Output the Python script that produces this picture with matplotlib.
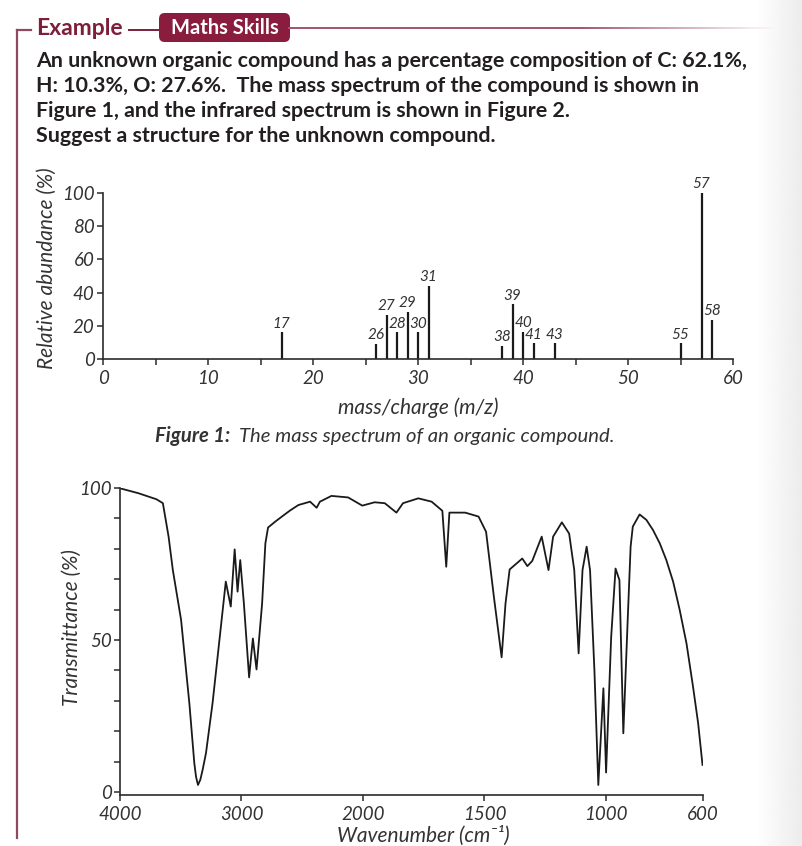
import numpy as np
import matplotlib
matplotlib.use('Agg')
import matplotlib.pyplot as plt
from matplotlib.patches import FancyBboxPatch
from matplotlib.lines import Line2D
from matplotlib.collections import LineCollection

plt.rcParams['font.family'] = ['Lato', 'DejaVu Sans']

# ---------------- data ----------------
header_lines = [
    "An unknown organic compound has a percentage composition of C: 62.1%,",
    "H: 10.3%, O: 27.6%.  The mass spectrum of the compound is shown in",
    "Figure 1, and the infrared spectrum is shown in Figure 2.",
    "Suggest a structure for the unknown compound.",
]

ms_mz = [17, 26, 27, 28, 29, 30, 31, 38, 39, 40, 41, 43, 55, 57, 58]
ms_abundance = [16, 9, 26.5, 16, 28.5, 16, 44, 8, 33, 16.5, 9.5, 9.5, 9.5, 100, 23.5]
ms_xticks = [0, 10, 20, 30, 40, 50, 60]
ms_xminor = [5, 15, 25, 35, 45, 55]
ms_yticks = [0, 20, 40, 60, 80, 100]

ir_wavenumber = [4000, 3850, 3700, 3647, 3600, 3565, 3497, 3456, 3429, 3388, 3374,
                 3358, 3339, 3320, 3292, 3238, 3184, 3129, 3088, 3056, 3032, 3010,
                 2980, 2937, 2906, 2876, 2830, 2803, 2781, 2720, 2667, 2600, 2531,
                 2435, 2381, 2354, 2259, 2122, 2005, 1952, 1910, 1862, 1835, 1772,
                 1717, 1673, 1657, 1644, 1579, 1524, 1493, 1461, 1429, 1413, 1396,
                 1344, 1323, 1303, 1264, 1236, 1217, 1181, 1151, 1130, 1112, 1096,
                 1079, 1065, 1047, 1031, 1010, 999, 978, 960, 944, 928, 910, 898,
                 889, 861, 833, 806, 778, 751, 723, 696, 668, 641, 620, 602]
ir_transmittance = [99.9, 98.3, 96.3, 95.0, 84.0, 73.0, 56.6, 40.0, 29.2, 9.4, 5.0,
                    2.3, 4.0, 7.2, 12.8, 29.2, 49.0, 69.2, 61.0, 79.8, 65.9, 76.3,
                    62.0, 37.7, 50.5, 40.3, 62.0, 81.8, 87.0, 89.0, 90.6, 92.6, 94.4,
                    95.5, 93.5, 95.5, 97.4, 96.9, 94.2, 95.3, 95.0, 91.9, 95.0, 96.6,
                    95.5, 92.5, 74.1, 91.9, 91.9, 90.6, 85.6, 64.3, 44.3, 62.0, 73.2,
                    76.8, 74.3, 76.0, 84.0, 73.0, 84.0, 88.7, 85.0, 73.0, 45.6, 73.0,
                    80.7, 73.0, 40.0, 2.3, 34.1, 6.4, 51.0, 73.5, 69.7, 19.3, 56.6, 80.7,
                    87.3, 91.3, 89.5, 86.2, 81.8, 76.3, 69.2, 59.9, 48.9, 34.6, 22.6, 8.9]
ir_xticks = [4000, 3000, 2000, 1500, 1000, 600]
ir_yticks = [0, 50, 100]
ir_yminor = [10, 20, 30, 40, 60, 70, 80, 90]

# ---------------- figure ----------------
W, H = 802, 846
fig = plt.figure(figsize=(W / 100, H / 100), dpi=100)
fig.patch.set_facecolor('white')

def fx(x):
    return x / W

def fy(y):
    return 1 - y / H

MAROON = '#7d1f3a'
TXT = '#231f20'
AX = '#2b2b2b'
LAB = '#333333'

# background gradient at the right edge
bg = fig.add_axes([0, 0, 1, 1], zorder=-10)
bg.axis('off')
xs = np.arange(W)
g = np.ones(W)
ramp = xs > 755
g[ramp] = 1 - 0.075 * (xs[ramp] - 755) / (W - 755)
bg.imshow(np.tile(g, (2, 1)), cmap='gray', vmin=0, vmax=1, aspect='auto',
          extent=[0, 1, 0, 1], interpolation='bilinear')
bg.set_xlim(0, 1); bg.set_ylim(0, 1)

# frame lines
fig.add_artist(Line2D([fx(17), fx(17)], [fy(30), fy(838)], color='#8e4a62', lw=1.6,
                      transform=fig.transFigure))
fig.add_artist(Line2D([fx(17), fx(31)], [fy(30), fy(30)], color='#8e4a62', lw=1.6,
                      transform=fig.transFigure, solid_capstyle='projecting'))
fig.add_artist(Line2D([fx(129), fx(160)], [fy(30), fy(30)], color=MAROON, lw=1.4,
                      transform=fig.transFigure))
# fading rule to the right of the box
xseg = np.linspace(288, 775, 120)
segs = [[(fx(a), fy(28)), (fx(b), fy(28))] for a, b in zip(xseg[:-1], xseg[1:])]
mid = (xseg[:-1] + xseg[1:]) / 2
alph = np.clip(1 - (mid - 580) / (775 - 580), 0, 1)
cols = [(0.63, 0.33, 0.42, a) for a in alph]
fig.add_artist(LineCollection(segs, colors=cols, linewidths=1.4, capstyle='butt',
                              transform=fig.transFigure))

fig.text(fx(36), fy(35), "Example", color=MAROON, fontsize=16.5, fontweight='bold',
         ha='left', va='baseline')
box = FancyBboxPatch((fx(159), fy(42)), fx(131), 29 / H,
                     boxstyle="round,pad=0,rounding_size=0.007",
                     transform=fig.transFigure, facecolor='#8a1d3d', edgecolor='none')
fig.add_artist(box)
fig.text(fx(224.5), fy(34), "Maths Skills", color='white', fontsize=14.5, fontweight='bold',
         ha='center', va='baseline')

for i, line in enumerate(header_lines):
    fig.text(fx(36), fy(67 + 25 * i), line, color=TXT, fontsize=15.4, fontweight='bold',
             ha='left', va='baseline')

# ---------------- Figure 1: mass spectrum ----------------
ax1 = fig.add_axes([fx(103), fy(359), (733 - 103) / W, (359 - 193) / H])
ax1.vlines(ms_mz, 0, ms_abundance, color='#1a1a1a', lw=1.6, clip_on=False)
for m, a in zip(ms_mz, ms_abundance):
    ax1.annotate(str(m), (m, a), xytext=(0, 1.2), textcoords='offset points',
                 ha='center', va='bottom', fontsize=11, fontstyle='italic', color=LAB)
ax1.set_xlim(0, 60)
ax1.set_ylim(0, 100)
ax1.set_xticks(ms_xticks)
ax1.set_xticks(ms_xminor, minor=True)
ax1.set_yticks(ms_yticks)
for s in ['top', 'right']:
    ax1.spines[s].set_visible(False)
for s in ['left', 'bottom']:
    ax1.spines[s].set_color(AX)
    ax1.spines[s].set_linewidth(1.2)
ax1.tick_params(which='both', direction='out', length=4, width=1.1, color=AX,
                labelsize=13.5, labelcolor=LAB)
ax1.tick_params(axis='y', pad=2)
ax1.tick_params(axis='x', pad=4)
for lab in ax1.get_xticklabels() + ax1.get_yticklabels():
    lab.set_fontstyle('italic')
ax1.set_xlabel("mass/charge (m/z)", fontsize=15, fontstyle='italic', color=LAB)
ax1.xaxis.set_label_coords(0.5, -0.23)
ax1.set_ylabel("Relative abundance (%)", fontsize=15, fontstyle='italic', color=LAB)
ax1.yaxis.set_label_coords(-0.074, 0.55)
ax1.patch.set_alpha(0)

t1 = fig.text(fx(155), fy(442), "Figure 1:", fontsize=14.6, fontweight='bold',
              fontstyle='italic', color=LAB, ha='left', va='baseline')
fig.canvas.draw()
bb = t1.get_window_extent()
fig.text(bb.x1 / W + fx(9), fy(442), "The mass spectrum of an organic compound.",
         fontsize=14.6, fontstyle='italic', color=LAB, ha='left', va='baseline')

# ---------------- Figure 2: IR spectrum ----------------
def fwd(w):
    w = np.asarray(w, dtype=float)
    return np.where(w >= 2000, w, 2 * w - 2000)

def inv(u):
    u = np.asarray(u, dtype=float)
    return np.where(u >= 2000, u, (u + 2000) / 2)

ax2 = fig.add_axes([fx(120), fy(795), (703 - 120) / W, (795 - 488) / H])
ax2.set_xscale('function', functions=(fwd, inv))
ax2.plot(ir_wavenumber, ir_transmittance, color='#1a1a1a', lw=1.3, solid_joinstyle='round')
ax2.set_xlim(4000, 600)
ax2.set_ylim(-1, 100)
ax2.set_xticks(ir_xticks)
ax2.set_xticklabels([str(t) for t in ir_xticks])
ax2.xaxis.set_minor_locator(matplotlib.ticker.NullLocator())
ax2.set_yticks(ir_yticks)
ax2.set_yticks(ir_yminor, minor=True)
for s in ['top', 'right']:
    ax2.spines[s].set_visible(False)
for s in ['left', 'bottom']:
    ax2.spines[s].set_color(AX)
    ax2.spines[s].set_linewidth(1.2)
ax2.tick_params(which='both', direction='out', length=4, width=1.1, color=AX,
                labelsize=13.5, labelcolor=LAB)
ax2.tick_params(axis='y', pad=2)
ax2.tick_params(axis='x', pad=4)
for lab in ax2.get_xticklabels() + ax2.get_yticklabels():
    lab.set_fontstyle('italic')
ax2.set_xlabel("Wavenumber (cm⁻¹)", fontsize=15, fontstyle='italic', color=LAB)
ax2.xaxis.set_label_coords(0.52, -0.1)
ax2.set_ylabel("Transmittance (%)", fontsize=15, fontstyle='italic', color=LAB)
ax2.yaxis.set_label_coords(-0.066, 0.544)
ax2.patch.set_alpha(0)

fig.savefig('out.png', dpi=100)
